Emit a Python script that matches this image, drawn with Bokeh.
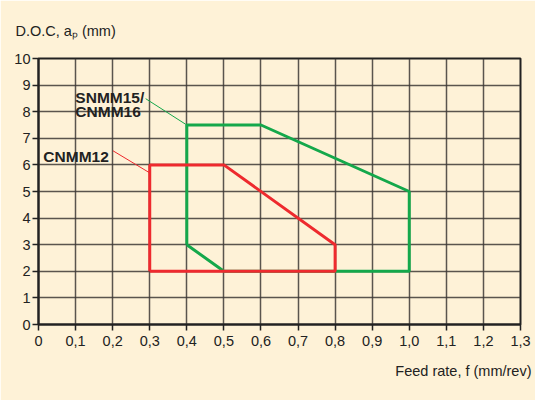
from bokeh.plotting import figure
from bokeh.models import Range1d, FixedTicker, Label, Title
from bokeh.embed import file_html
from bokeh.resources import INLINE

# ---- data ----
x_ticks = [0, 0.1, 0.2, 0.3, 0.4, 0.5, 0.6, 0.7, 0.8, 0.9, 1.0, 1.1, 1.2, 1.3]
x_tick_labels = ["0", "0,1", "0,2", "0,3", "0,4", "0,5", "0,6", "0,7", "0,8", "0,9", "1,0", "1,1", "1,2", "1,3"]
y_ticks = [0, 1, 2, 3, 4, 5, 6, 7, 8, 9, 10]

snmm_feed = [0.4, 0.4, 0.6, 1.0, 1.0, 0.5, 0.4]
snmm_doc = [3.0, 7.5, 7.5, 5.0, 2.0, 2.0, 3.0]

cnmm12_feed = [0.3, 0.3, 0.5, 0.8, 0.8, 0.3]
cnmm12_doc = [2.0, 6.0, 6.0, 3.0, 2.0, 2.0]

snmm_leader_x = [0.289, 0.4]
snmm_leader_y = [8.49, 7.5]
cnmm12_leader_x = [0.201, 0.3]
cnmm12_leader_y = [6.53, 5.7]

RED = "#EE2A2E"
GREEN = "#14A84B"
BG = "#FEF2D7"
INK = "#222222"
FONT = "Liberation Sans"

p = figure(width=535, height=400, output_backend="svg", toolbar_location=None,
           x_range=Range1d(0, 1.3), y_range=Range1d(0, 10),
           min_border_left=38, min_border_right=15, min_border_top=58, min_border_bottom=76)
p.background_fill_color = BG
p.border_fill_color = BG
p.outline_line_color = INK
p.outline_line_width = 2

p.xaxis.ticker = FixedTicker(ticks=x_ticks)
p.yaxis.ticker = FixedTicker(ticks=y_ticks)
p.xaxis.major_label_overrides = {t: l for t, l in zip(x_ticks, x_tick_labels)}
for ax in (p.xaxis, p.yaxis):
    ax.axis_line_color = INK
    ax.axis_line_width = 2
    ax.major_tick_line_color = INK
    ax.major_tick_line_width = 1.5
    ax.major_tick_out = 6
    ax.major_tick_in = 0
    ax.minor_tick_line_color = None
    ax.major_label_text_font = FONT
    ax.major_label_text_font_size = "14.5px"
    ax.major_label_text_color = INK
p.xaxis.major_label_standoff = 5
p.yaxis.major_label_standoff = 2

p.xgrid.ticker = FixedTicker(ticks=x_ticks)
p.ygrid.ticker = FixedTicker(ticks=y_ticks)
for g in (p.xgrid, p.ygrid):
    g.grid_line_color = "#3d3a36"
    g.grid_line_width = 1.5
    g.grid_line_alpha = 0.85

# regions
p.line(snmm_feed, snmm_doc, line_color=GREEN, line_width=3)
p.line(cnmm12_feed, cnmm12_doc, line_color=RED, line_width=3)

# leaders
p.line(snmm_leader_x, snmm_leader_y, line_color=GREEN, line_width=1)
p.line(cnmm12_leader_x, cnmm12_leader_y, line_color=RED, line_width=1)

def lab(x, y, text, size="15.5px", bold=True):
    p.add_layout(Label(x=x, y=y, text=text, text_font=FONT, text_font_size=size,
                       text_font_style="bold" if bold else "normal",
                       text_color=INK, text_align="left", text_baseline="alphabetic"))

lab(0.0994, 8.54, "SNMM15/")
lab(0.0994, 8.0, "CNMM16")
lab(0.0131, 6.32, "CNMM12")

# axis titles
p.title = Title(text="D.O.C, a\u209a (mm)", align="left", offset=-23, standoff=40,
                vertical_align="bottom",
                text_font=FONT, text_font_size="14.5px", text_font_style="normal",
                text_color=INK)
p.add_layout(Title(text="Feed rate, f (mm/rev)", align="right", offset=-11, standoff=24,
                   text_font=FONT, text_font_size="14.5px", text_font_style="normal",
                   text_color=INK), "below")

open("out.html", "w").write(file_html(p, INLINE))
